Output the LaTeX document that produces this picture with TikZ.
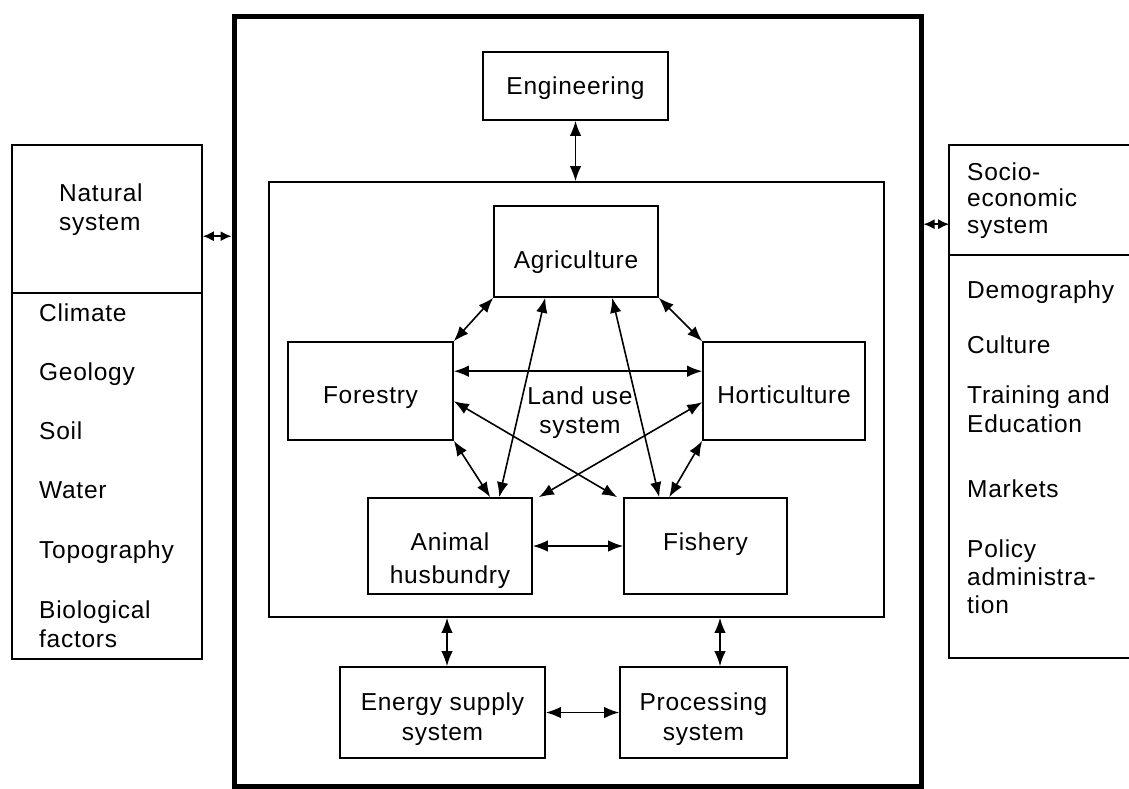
\documentclass[tikz,border=0pt]{standalone}
\usepackage{fontspec}
\setmainfont{Liberation Sans}[LetterSpace=3.0]
\usetikzlibrary{arrows.meta}
\begin{document}
\begin{tikzpicture}[x=1pt,y=-1pt,
  box/.style={draw, line width=1.6pt, inner sep=0pt},
  txt/.style={inner sep=0pt, anchor=base, font=\fontsize{24.5}{29}\selectfont},
  dbl/.style={line width=1.6pt, {Latex[length=15pt,width=11.5pt]}-{Latex[length=15pt,width=11.5pt]}},
  sdbl/.style={line width=1.6pt, {Latex[length=11pt,width=10pt]}-{Latex[length=11pt,width=10pt]}},
  divider/.style={line width=1.2pt}]
\useasboundingbox (0,0) rectangle (1129,789);
% boxes
\node[box, line width=5pt, minimum width=687pt, minimum height=769pt] (outer) at (577.5,401.5) {};
\node[box, minimum width=190pt, minimum height=514pt] (natural) at (107,402) {};
\node[box, draw=none, minimum width=190pt, minimum height=511pt] (socio) at (1045,401.5) {};
\node[box, minimum width=185pt, minimum height=68pt] (eng) at (575.5,86) {};
\node[box, minimum width=615pt, minimum height=435pt] (landuse) at (576.5,399.5) {};
\node[box, minimum width=164pt, minimum height=91pt] (agri) at (576,251.5) {};
\node[box, minimum width=165pt, minimum height=98pt] (forest) at (370.5,391) {};
\node[box, minimum width=162pt, minimum height=98pt] (horti) at (784,391) {};
\node[box, minimum width=164pt, minimum height=96pt] (animal) at (450,546) {};
\node[box, minimum width=163pt, minimum height=96pt] (fish) at (705.5,546) {};
\node[box, minimum width=205pt, minimum height=91pt] (energy) at (442.5,712.5) {};
\node[box, minimum width=167pt, minimum height=91pt] (proc) at (703.5,712.5) {};
% open right box and dividers
\draw[line width=1.6pt] (socio.north east) -- (socio.north west) -- (socio.south west) -- (socio.south east);
\draw[divider] (natural.west |- 0,293) -- (natural.east |- 0,293);
\draw[divider] (socio.west |- 0,255) -- (socio.east |- 0,255);
% texts (multi-line nodes are placed by the baseline of their last line)
\node[txt] (tEng) at (575.5,95) {Engineering};
\node[txt] (tAgri) at (576,268) {Agriculture};
\node[txt] (tFor) at (370.5,403) {Forestry};
\node[txt] (tHor) at (784,403) {Horticulture};
\node[txt, align=center] (tLand) at (580,433) {Land use\\system};
\node[txt, align=center, font=\fontsize{24.5}{33}\selectfont] (tAni) at (450,583) {Animal\\husbundry};
\node[txt] (tFish) at (705.5,550) {Fishery};
\node[txt, align=center, font=\fontsize{24.5}{30}\selectfont] (tEn) at (442.5,740) {Energy supply\\system};
\node[txt, align=center, font=\fontsize{24.5}{30}\selectfont] (tPro) at (703.5,740) {Processing\\system};
\node[txt, anchor=base west, align=left] (tNat) at (59,230) {Natural\\system};
\node[txt, anchor=base west] (tCli) at (39,321) {Climate};
\node[txt, anchor=base west] (tGeo) at (39,380) {Geology};
\node[txt, anchor=base west] (tSoil) at (39,439) {Soil};
\node[txt, anchor=base west] (tWat) at (39,498) {Water};
\node[txt, anchor=base west] (tTop) at (39,558) {Topography};
\node[txt, anchor=base west, align=left] (tBio) at (39,647) {Biological\\factors};
\node[txt, anchor=base west, align=left, font=\fontsize{24.5}{26.5}\selectfont] (tSoc) at (967,233) {Socio-\\economic\\system};
\node[txt, anchor=base west] (tDem) at (967,298) {Demography};
\node[txt, anchor=base west] (tCul) at (967,353) {Culture};
\node[txt, anchor=base west, align=left] (tTra) at (967,432) {Training and\\Education};
\node[txt, anchor=base west] (tMar) at (967,497) {Markets};
\node[txt, anchor=base west, align=left, font=\fontsize{24.5}{28}\selectfont] (tPol) at (967,613) {Policy\\administra-\\tion};
% connectors
\coordinate (e1) at ([xshift=4.5pt]energy.north);
\coordinate (p1) at ([xshift=16.5pt]proc.north);
\coordinate (n1) at ([yshift=-92pt]natural.north east);
\coordinate (s1) at ([yshift=-79pt]socio.north west);
\draw[dbl] (agri.south west) -- (forest.north east);
\draw[dbl] (agri.south east) -- (horti.north west);
\draw[dbl] ([yshift=-30pt]forest.north east) -- ([yshift=-30pt]horti.north west);
\draw[dbl] (forest.south east) -- ([xshift=123pt]animal.north west);
\draw[dbl] ([xshift=52pt]agri.south west) -- ([xshift=132pt]animal.north west);
\draw[dbl] ([yshift=-60pt]forest.north east) -- ([xshift=-6pt]fish.north west);
\draw[dbl] ([yshift=-61pt]horti.north west) -- ([xshift=6pt]animal.north east);
\draw[dbl] ([xshift=119pt]agri.south west) -- ([xshift=36pt]fish.north west);
\draw[dbl] (horti.south west) -- ([xshift=46pt]fish.north west);
\draw[dbl] (animal.east) -- (fish.west);
\draw[dbl] (energy.east) -- (proc.west);
\draw[dbl] (e1) -- (e1 |- landuse.south);
\draw[dbl] (p1) -- (p1 |- landuse.south);
\draw[dbl] (eng.south) -- (eng.south |- landuse.north);
\draw[sdbl] (n1) -- (n1 -| outer.west);
\draw[sdbl] (s1 -| outer.east) -- (s1);
\end{tikzpicture}
\end{document}
